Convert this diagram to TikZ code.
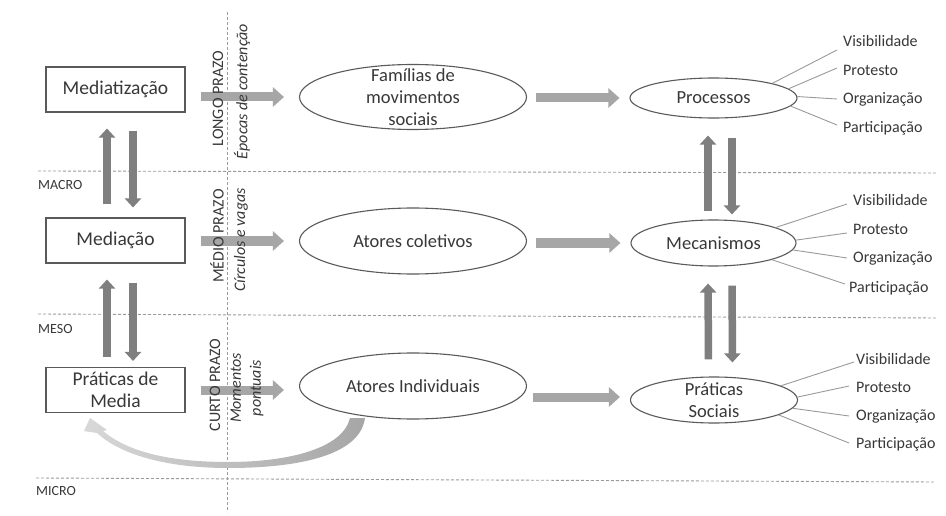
\documentclass[tikz,border=0pt]{standalone}
\usepackage{fontspec}
\setmainfont{Carlito}
\usetikzlibrary{arrows.meta,shapes.geometric}
\definecolor{txt}{HTML}{383838}
\definecolor{boxc}{HTML}{5A5A5A}
\definecolor{harr}{HTML}{A6A6A6}
\definecolor{varr}{HTML}{7F7F7F}
\definecolor{dashc}{HTML}{9A9A9A}
\definecolor{spk}{HTML}{9A9A9A}
\definecolor{curvl}{HTML}{D8D8D8}
\definecolor{curvr}{HTML}{A6A6A6}
\begin{document}
\begin{tikzpicture}[x=1pt,y=-1pt,
  box/.style={draw=boxc, line width=1.1pt, minimum width=139pt, minimum height=45pt, inner sep=0pt, align=center, font=\fontsize{19.5}{21.7}\selectfont, text=txt},
  ell/.style={draw=boxc, ellipse, line width=1.1pt, inner sep=0pt},
  main/.style={align=center, font=\fontsize{18.5}{21.7}\selectfont, text=txt, inner sep=0pt},
  lab/.style={font=\fontsize{16}{19}\selectfont, text=txt, anchor=west, inner sep=0pt, text height=11pt, text depth=3pt},
  lvl/.style={font=\fontsize{14}{16}\selectfont, text=txt, anchor=west, inner sep=0pt},
  term/.style={font=\fontsize{16}{20}\selectfont, text=txt, rotate=90, inner sep=0pt, align=center},
  termi/.style={font=\fontsize{16}{20}\selectfont\itshape, text=txt, rotate=90, inner sep=0pt, align=center},
  harrow/.style={draw=harr, line width=9pt, -{Triangle[length=11pt,width=19pt]}},
  varrow/.style={draw=varr, line width=7.5pt, -{Triangle[length=9pt,width=16pt]}},
  spoke/.style={draw=spk, line width=0.9pt},
  grid/.style={draw=dashc, line width=0.9pt, dash pattern=on 3pt off 2pt}
]
\fill[white] (0,0) rectangle (946,516);
\useasboundingbox (0,0) rectangle (946,516);

% grid lines
\draw[grid] (38,171) -- (937,173);
\draw[grid] (38,314) -- (937,318);
\draw[grid] (36,478) -- (935,482);
\draw[grid] (227,12) -- (227,512);

% level labels
\node[lvl] (macro) at (38,185) {MACRO};
\node[lvl] (meso) at (38,329) {MESO};
\node[lvl] (micro) at (36,491) {MICRO};

% left boxes
\node[box] (mz) at (115.5,89.5) {Mediatização};
\node[box] (mc) at (115.5,240.5) {Mediação};
\node[box] (pm) at (115.5,390) {Práticas de\\Media};

% middle ellipses
\node[ell, minimum width=227pt, minimum height=65pt] (fam) at (413,97) {};
\node[main] (famt) at (fam.center) {Famílias de\\movimentos\\sociais};
\node[ell, minimum width=227pt, minimum height=66pt] (col) at (413,241) {};
\node[main] (colt) at (col.center) {Atores coletivos};
\node[ell, minimum width=227pt, minimum height=66pt] (ind) at (413,386) {};
\node[main] (indt) at (ind.center) {Atores Individuais};

% right ellipses
\node[ell, minimum width=167pt, minimum height=40pt] (proc) at (713.5,98) {};
\node[main] (proct) at (proc.center) {Processos};
\node[ell, minimum width=165pt, minimum height=46pt] (mec) at (713.5,243) {};
\node[main] (mect) at (mec.center) {Mecanismos};
\node[ell, minimum width=167pt, minimum height=46pt] (ps) at (714,400) {};
\node[main] (pst) at (ps.center) {Práticas\\Sociais};

% horizontal arrows
\draw[harrow] ([xshift=15pt]mz.east |- fam.west) -- ([xshift=-15pt]fam.west);
\draw[harrow] ([xshift=15pt]mc.east |- col.west) -- ([xshift=-15pt]col.west);
\draw[harrow] ([xshift=15pt]pm.east) -- ([xshift=-15pt]ind.west |- pm.east);
\draw[harrow] ([xshift=9pt]fam.east |- proc.west) -- ([xshift=-10pt]proc.west);
\draw[harrow] ([xshift=9pt]col.east |- mec.west) -- ([xshift=-10pt]mec.west);
\draw[harrow] ([xshift=6pt,yshift=3pt]ind.east |- ps.west) -- ([xshift=-10pt,yshift=3pt]ps.west);

% vertical arrows left
\draw[varrow, shorten <=13pt, shorten >=16pt] ([xshift=-8.5pt]mc.north) -- ([xshift=-8.5pt]mz.south);
\draw[varrow, shorten <=18pt, shorten >=10pt] ([xshift=17.5pt]mz.south) -- ([xshift=17.5pt]mc.north);
\draw[varrow, shorten <=10pt, shorten >=16pt] ([xshift=-8.5pt]pm.north) -- ([xshift=-8.5pt]mc.south);
\draw[varrow, shorten <=19pt, shorten >=6pt] ([xshift=17.5pt]mc.south) -- ([xshift=17.5pt]pm.north);

% vertical arrows right
\draw[varrow, shorten <=8pt, shorten >=17pt] ([xshift=-5.5pt]mec.north) -- ([xshift=-5.5pt]proc.south);
\draw[varrow, shorten <=19pt, shorten >=5pt] ([xshift=18.5pt]proc.south) -- ([xshift=18.5pt]mec.north);
\draw[varrow, shorten <=17pt, shorten >=17pt] ([xshift=-5.5pt]ps.north) -- ([xshift=-5.5pt]mec.south);
\draw[varrow, shorten <=19pt, shorten >=14pt] ([xshift=18.5pt]mec.south) -- ([xshift=18.5pt]ps.north);

% curved feedback arrow
\shade[left color=curvl, right color=curvr]
  (350,418) .. controls (343,448) and (290,462) .. (228,462)
  .. controls (170,462) and (128,452) .. (103,431)
  -- (107,430) -- (90,418) -- (84,431) -- (97,433)
  .. controls (122,456) and (170,468) .. (228,468)
  .. controls (300,468) and (360,455) .. (365,418) -- cycle;

% time scale labels (on top of arrows)
\node[term] (lp) at (218,98.5) {LONGO PRAZO};
\node[termi] (ep) at (242,91.5) {Épocas de contenção};
\node[term] (mp) at (217,236) {MÉDIO PRAZO};
\node[termi] (cv) at (241,240) {Círculos e vagas};
\node[term] (cp) at (215,385) {CURTO PRAZO};
\node[termi] (mo) at (247,388) {Momentos\\pontuais};

% Processos labels
\node[lab] (pv) at (843,43) {Visibilidade};
\node[lab] (pp) at (843,72) {Protesto};
\node[lab] (po) at (843,100) {Organização};
\node[lab] (pa) at (843,129) {Participação};
\draw[spoke] (proc.14) -- ([xshift=-6pt,yshift=-7pt]pv.west);
\draw[spoke] (proc.7) -- ([xshift=-6pt,yshift=4pt]pp.west);
\draw[spoke] (proc.1) -- ([xshift=-6pt,yshift=1pt]po.west);
\draw[spoke] (proc.-6) -- ([xshift=-6pt,yshift=4pt]pa.west);

% Mecanismos labels
\node[lab] (mv) at (853,202) {Visibilidade};
\node[lab] (mpr) at (853,230) {Protesto};
\node[lab] (mo2) at (853,258) {Organização};
\node[lab] (ma) at (849,288) {Participação};
\draw[spoke] (mec.14) -- ([xshift=-6pt,yshift=-2pt]mv.west);
\draw[spoke] (mec.2) -- ([xshift=-6pt,yshift=-3pt]mpr.west);
\draw[spoke] (mec.-5) -- ([xshift=-6pt]mo2.west);
\draw[spoke] (mec.-16) -- ([xshift=-4pt,yshift=4pt]ma.west);

% Praticas Sociais labels
\node[lab] (sv) at (856,360) {Visibilidade};
\node[lab] (sp) at (856,388) {Protesto};
\node[lab] (so) at (856,416) {Organização};
\node[lab] (sa) at (856,444) {Participação};
\draw[spoke] (ps.12) -- ([xshift=-2pt,yshift=-2pt]sv.west);
\draw[spoke] (ps.2) -- ([xshift=-7pt,yshift=2pt]sp.west);
\draw[spoke] (ps.-6) -- ([xshift=-7pt]so.west);
\draw[spoke] (ps.-13) -- ([xshift=-7pt,yshift=1pt]sa.west);
\end{tikzpicture}
\end{document}
